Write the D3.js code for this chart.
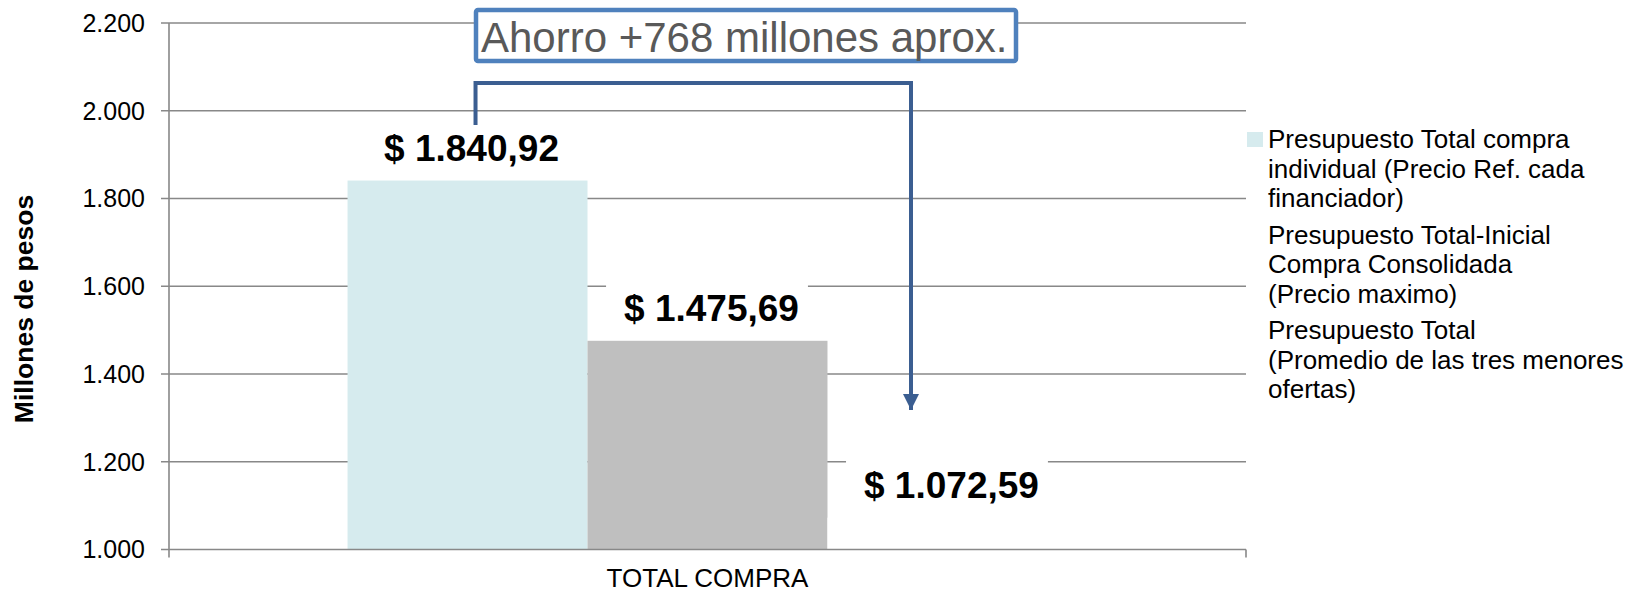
<!DOCTYPE html>
<html><head><meta charset="utf-8">
<script src="https://cdn.jsdelivr.net/npm/d3@7"></script>
<style>
html,body{margin:0;padding:0;background:#fff;}
svg{display:block;font-family:"Liberation Sans",Arial,sans-serif;}
</style></head>
<body><svg id="c" width="1648" height="593"></svg>
<script>
const categories = ["TOTAL COMPRA"];
const seriesNames = [
  ["Presupuesto Total compra","individual (Precio Ref. cada","financiador)"],
  ["Presupuesto Total-Inicial","Compra Consolidada","(Precio maximo)"],
  ["Presupuesto Total","(Promedio de las tres menores","ofertas)"]
];
const seriesValues = [1840.92, 1475.69, 1072.59];
const valueLabels = ["$ 1.840,92", "$ 1.475,69", "$ 1.072,59"];
const seriesColors = ["#d6ebee", "#bfbfbf", "#ffffff"];
const legendSwatchShown = [true, false, false];
const yTicks = [1000, 1200, 1400, 1600, 1800, 2000, 2200];
const yTickLabels = ["1.000","1.200","1.400","1.600","1.800","2.000","2.200"];
const yTitle = "Millones de pesos";
const annotationText = "Ahorro +768 millones aprox.";

const svg = d3.select("#c");
const L = 169, R = 1246, T = 23, B = 549.5;
const y = d3.scaleLinear().domain([1000, 2200]).range([B, T]);
const x0 = d3.scaleBand().domain(categories).range([L, R]).padding(0);
const x1 = d3.scaleBand().domain(d3.range(seriesValues.length)).range([0, x0.bandwidth()]).paddingInner(0).paddingOuter(0.744);
const gridC = "#888888";

// gridlines (baseline drawn separately on top of bars)
svg.append("g").selectAll("line").data(yTicks.filter(d => d !== y.domain()[0])).join("line")
  .attr("x1", L - 8).attr("x2", R).attr("y1", d => y(d)).attr("y2", d => y(d))
  .attr("stroke", gridC).attr("stroke-width", 1.6);

// tick labels
svg.append("g").selectAll("text").data(yTicks).join("text")
  .attr("x", 145).attr("y", d => y(d)).attr("dy", "0.35em")
  .attr("text-anchor", "end").attr("font-size", 25).attr("fill", "#000")
  .text((d, i) => yTickLabels[i]);

// y title
svg.append("text").attr("transform", "translate(33,309) rotate(-90)")
  .attr("text-anchor", "middle").attr("font-size", 26.5).attr("font-weight", "bold")
  .text(yTitle);

// bars
const g = svg.append("g");
categories.forEach(cat => {
  g.selectAll("rect.bar").data(seriesValues).join("rect").attr("class", "bar")
    .attr("x", (d, i) => x0(cat) + x1(i))
    .attr("width", x1.bandwidth())
    .attr("y", d => y(d)).attr("height", d => B - y(d))
    .attr("fill", (d, i) => seriesColors[i]);
});

// axis lines on top of bars
svg.append("line").attr("x1", L - 8).attr("x2", R).attr("y1", B).attr("y2", B).attr("stroke", gridC).attr("stroke-width", 1.6);
svg.append("line").attr("x1", L).attr("x2", L).attr("y1", T).attr("y2", B + 8).attr("stroke", gridC).attr("stroke-width", 1.6);
svg.append("line").attr("x1", R).attr("x2", R).attr("y1", B).attr("y2", B + 8).attr("stroke", gridC).attr("stroke-width", 1.6);

// category label
svg.append("g").selectAll("text").data(categories).join("text")
  .attr("x", d => x0(d) + x0.bandwidth() / 2).attr("y", 587)
  .attr("text-anchor", "middle").attr("font-size", 26).text(d => d);

// value labels
const lg = svg.append("g");
seriesValues.forEach((v, i) => {
  const cx = x0(categories[0]) + x1(i) + x1.bandwidth() / 2 + 4;
  const by = y(v) - 20;
  const grp = lg.append("g");
  const bg = grp.append("rect").attr("fill", "#fff");
  const t = grp.append("text").attr("x", cx).attr("y", by).attr("text-anchor", "middle")
    .attr("font-size", 37).attr("font-weight", "bold").attr("fill", "#000").text(valueLabels[i]);
  const bb = t.node().getBBox();
  bg.attr("x", bb.x - 18).attr("y", bb.y - 4).attr("width", bb.width + 27).attr("height", bb.height + 4);
});

// connector arrow
const arrowC = "#3b5e91";
svg.append("defs").append("marker").attr("id", "ah").attr("viewBox", "0 0 10 10")
  .attr("refX", 10).attr("refY", 5).attr("markerWidth", 4).attr("markerHeight", 4)
  .attr("markerUnits", "strokeWidth").attr("orient", "auto")
  .append("path").attr("d", "M0,0L10,5L0,10Z").attr("fill", arrowC);
const xa = x0(categories[0]) + x1(0) + x1.bandwidth() / 2 + 8;
const xb = 911;
svg.append("path").attr("d", `M${xa},125 L${xa},83 L${xb},83 L${xb},410`)
  .attr("fill", "none").attr("stroke", arrowC).attr("stroke-width", 4)
  .attr("marker-end", "url(#ah)");

// annotation box
svg.append("rect").attr("x", 476).attr("y", 10).attr("width", 540).attr("height", 51)
  .attr("rx", 2).attr("fill", "#fff").attr("stroke", "#4f81bd").attr("stroke-width", 4.5);
svg.append("text").attr("x", 481).attr("y", 52).attr("font-size", 42).attr("fill", "#595959")
  .text(annotationText);

// legend
const leg = svg.append("g");
seriesNames.forEach((lines, i) => {
  const base = 148 + i * 95.5;
  if (legendSwatchShown[i]) {
    leg.append("rect").attr("x", 1247).attr("y", base - 16).attr("width", 16).attr("height", 15)
      .attr("fill", seriesColors[i]);
  }
  lines.forEach((ln, j) => {
    leg.append("text").attr("x", 1268).attr("y", base + j * 29.7).attr("font-size", 26)
      .attr("fill", "#000").text(ln);
  });
});
</script></body></html>
